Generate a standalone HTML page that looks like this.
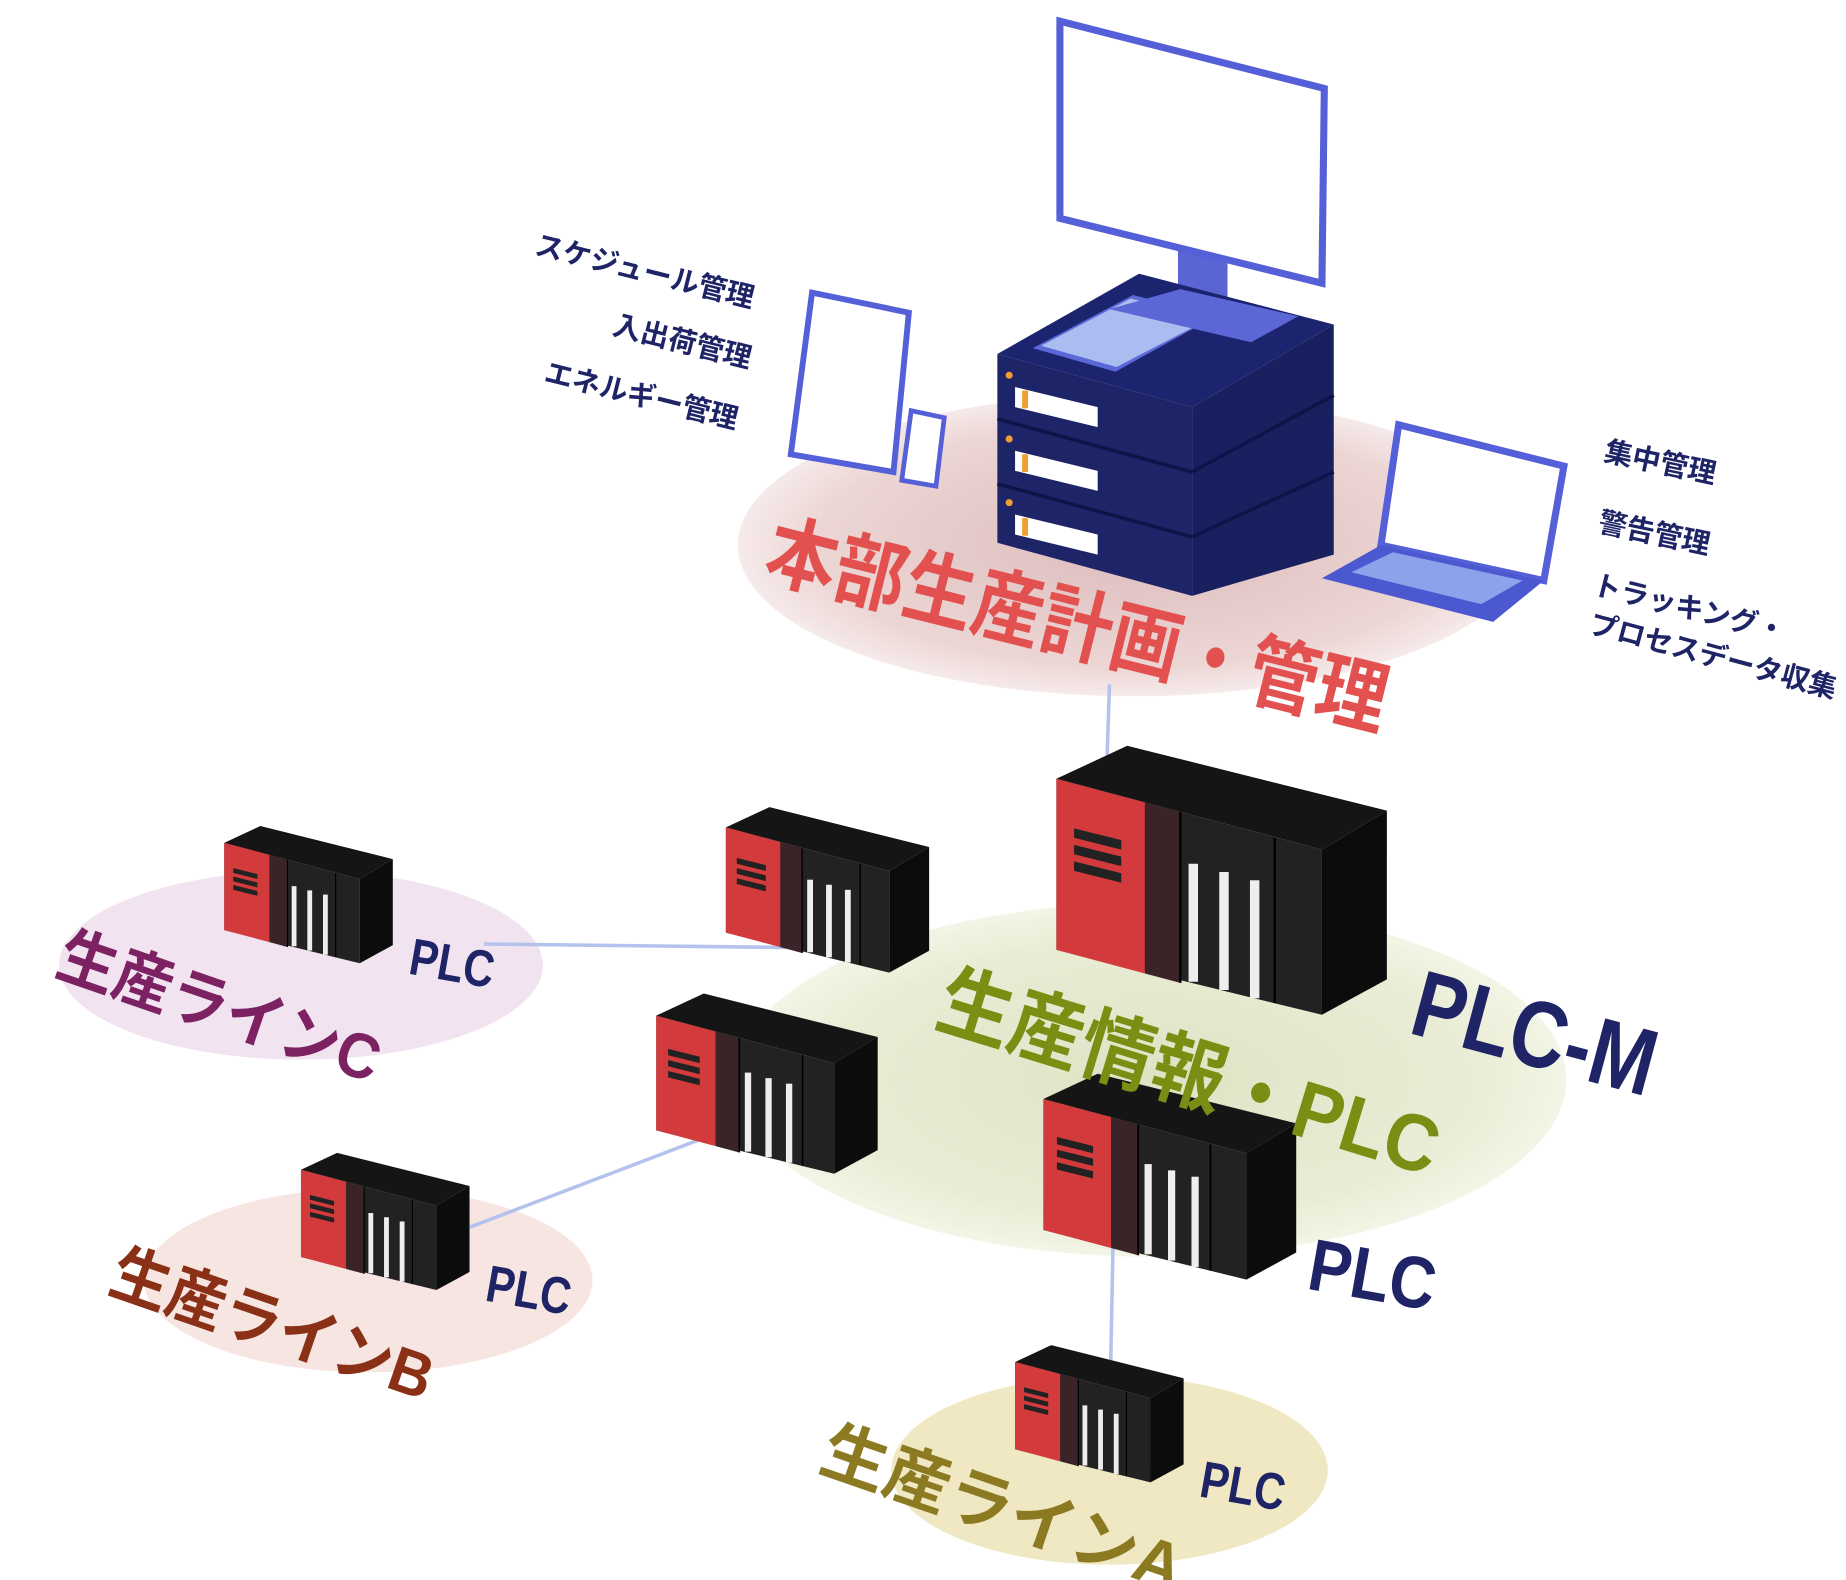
<!DOCTYPE html>
<html><head><meta charset="utf-8"><style>
html,body{margin:0;padding:0;background:#fff;width:1846px;height:1580px;overflow:hidden}
svg{display:block}
text{font-family:"Liberation Sans","Noto Sans CJK JP",sans-serif;font-weight:bold}
</style></head><body>
<svg width="1846" height="1580" viewBox="0 0 1564 1339" preserveAspectRatio="none">
<defs>
<radialGradient id="gp" cx="50%" cy="50%" r="50%"><stop offset="0" stop-color="#dcbcbc"/><stop offset="0.8" stop-color="#ecd6d4"/><stop offset="1" stop-color="#f6eaea"/></radialGradient>
<radialGradient id="gg" cx="50%" cy="50%" r="50%"><stop offset="0" stop-color="#dfe3c4"/><stop offset="0.8" stop-color="#eaedd6"/><stop offset="1" stop-color="#f3f5e6"/></radialGradient>
<g id="plc">
<polygon points="0,28 60,0 280,55 225,88" fill="#151515"/>
<polygon points="0,28 225,88 225,228 0,173" fill="#222"/>
<polygon points="225,88 280,55 280,198 225,228" fill="#0c0c0c"/>
<polygon points="0,28 75,48 75,193 0,173" fill="#d23a3c"/>
<polygon points="75,48 105,56 105,201 75,193" fill="#3a2428"/>
<polygon points="15,70 55,80 55,88 15,78" fill="#222"/>
<polygon points="15,84 55,94 55,102 15,92" fill="#222"/>
<polygon points="15,98 55,108 55,116 15,106" fill="#222"/>
<rect x="112" y="100" width="8" height="100" fill="#eee"/>
<rect x="138" y="107" width="8" height="100" fill="#eee"/>
<rect x="164" y="114" width="8" height="100" fill="#eee"/>
<line x1="105" y1="56" x2="105" y2="201" stroke="#000" stroke-width="2"/>
<line x1="185" y1="78" x2="185" y2="218" stroke="#000" stroke-width="2"/>
</g>
</defs>
<ellipse cx="960" cy="462" rx="335" ry="128" fill="url(#gp)"/>
<ellipse cx="975" cy="915" rx="352" ry="150" fill="url(#gg)"/>
<ellipse cx="255" cy="818" rx="205" ry="80" fill="#f1e3ef"/>
<ellipse cx="312" cy="1085" rx="190" ry="78" fill="#f6e5e1"/>
<ellipse cx="940" cy="1246" rx="185" ry="80" fill="#efe8c2"/>
<g stroke="#b4c2ee" stroke-width="3">
<line x1="940" y1="580" x2="938" y2="640"/>
<line x1="410" y1="800" x2="672" y2="803"/>
<line x1="398" y1="1040" x2="600" y2="963"/>
<line x1="943" y1="1055" x2="941" y2="1158"/>
</g>
<rect x="998" y="205" width="42" height="60" fill="#5a64d2"/>
<polygon points="898,18 1122,75 1120,240 898,185" fill="#fff" stroke="#5560d8" stroke-width="6"/>
<polygon points="845,300 965,232 1130,275 1010,345" fill="#1c2470"/>
<polygon points="875,295 960,250 1030,268 945,315" fill="#5a68d8"/>
<polygon points="882,293 958,253 1025,270 946,311" fill="#aabcf0"/>
<polygon points="940,262 1000,245 1100,268 1060,290" fill="#5c66d6"/>
<polygon points="845,300 1010,345 1010,505 845,460" fill="#1e2468"/>
<polygon points="1010,345 1130,275 1130,470 1010,505" fill="#192060"/>
<g stroke="#0e1448" stroke-width="3"><line x1="845" y1="355" x2="1010" y2="400"/><line x1="845" y1="410" x2="1010" y2="455"/><line x1="1010" y1="400" x2="1130" y2="335"/><line x1="1010" y1="455" x2="1130" y2="400"/></g>
<g fill="#fff"><polygon points="860,328 930,345 930,362 860,345"/><polygon points="860,382 930,399 930,416 860,399"/><polygon points="860,436 930,453 930,470 860,453"/></g>
<g fill="#f0a030"><rect x="866" y="331" width="5" height="15"/><rect x="866" y="385" width="5" height="15"/><rect x="866" y="439" width="5" height="15"/><circle cx="855" cy="318" r="3"/><circle cx="855" cy="372" r="3"/><circle cx="855" cy="426" r="3"/></g>
<polygon points="688,248 770,265 757,400 670,385" fill="#fff" stroke="#5560d8" stroke-width="5"/>
<polygon points="772,348 800,354 793,412 764,407" fill="#fff" stroke="#5560d8" stroke-width="4"/>
<polygon points="1185,360 1325,395 1308,492 1170,462" fill="#fff" stroke="#5560d8" stroke-width="6"/>
<polygon points="1120,490 1170,462 1308,492 1265,527" fill="#4c58d0"/>
<polygon points="1145,485 1180,468 1290,492 1255,512" fill="#8ea2ec"/>
<use href="#plc" transform="translate(895,632)"/>
<use href="#plc" transform="translate(884,910) scale(0.765)"/>
<use href="#plc" transform="translate(556,842) scale(0.67)"/>
<use href="#plc" transform="translate(615,684) scale(0.615)"/>
<use href="#plc" transform="translate(190,700) scale(0.51)"/>
<use href="#plc" transform="translate(255,977) scale(0.51)"/>
<use href="#plc" transform="translate(860,1140) scale(0.51)"/>
<text transform="translate(645,488) rotate(14)" font-size="68" fill="#e2514f" textLength="540" lengthAdjust="spacingAndGlyphs">本部生産計画・管理</text>
<text transform="translate(790,868) rotate(17)" font-size="68" fill="#7b8d12" textLength="440" lengthAdjust="spacingAndGlyphs">生産情報・PLC</text>
<text transform="translate(1192,875) rotate(15)" font-size="80" fill="#1e2466" textLength="210" lengthAdjust="spacingAndGlyphs">PLC-M</text>
<text transform="translate(1106,1092) rotate(10)" font-size="62" fill="#1e2466" textLength="108" lengthAdjust="spacingAndGlyphs">PLC</text>
<text transform="translate(345,825) rotate(10)" font-size="44" fill="#1e2466" textLength="72" lengthAdjust="spacingAndGlyphs">PLC</text>
<text transform="translate(410,1102) rotate(10)" font-size="44" fill="#1e2466" textLength="72" lengthAdjust="spacingAndGlyphs">PLC</text>
<text transform="translate(1015,1268) rotate(10)" font-size="44" fill="#1e2466" textLength="72" lengthAdjust="spacingAndGlyphs">PLC</text>
<text transform="translate(45,825) rotate(19)" font-size="54" fill="#7c2262" textLength="285" lengthAdjust="spacingAndGlyphs">生産ラインC</text>
<text transform="translate(90,1094) rotate(19)" font-size="54" fill="#8a3016" textLength="285" lengthAdjust="spacingAndGlyphs">生産ラインB</text>
<text transform="translate(692,1245) rotate(19)" font-size="56" fill="#8b7a22" textLength="320" lengthAdjust="spacingAndGlyphs">生産ラインA</text>
<g fill="#1e2466" font-size="24">
<text transform="translate(452,215) rotate(14)">スケジュール管理</text>
<text transform="translate(518,283) rotate(14)">入出荷管理</text>
<text transform="translate(460,323) rotate(14)">エネルギー管理</text>
<text transform="translate(1358,390) rotate(12)">集中管理</text>
<text transform="translate(1353,450) rotate(12)">警告管理</text>
<text transform="translate(1348,503) rotate(14)">トラッキング・</text>
<text transform="translate(1345,536) rotate(15)">プロセスデータ収集</text>
</g>
</svg>
</body></html>
